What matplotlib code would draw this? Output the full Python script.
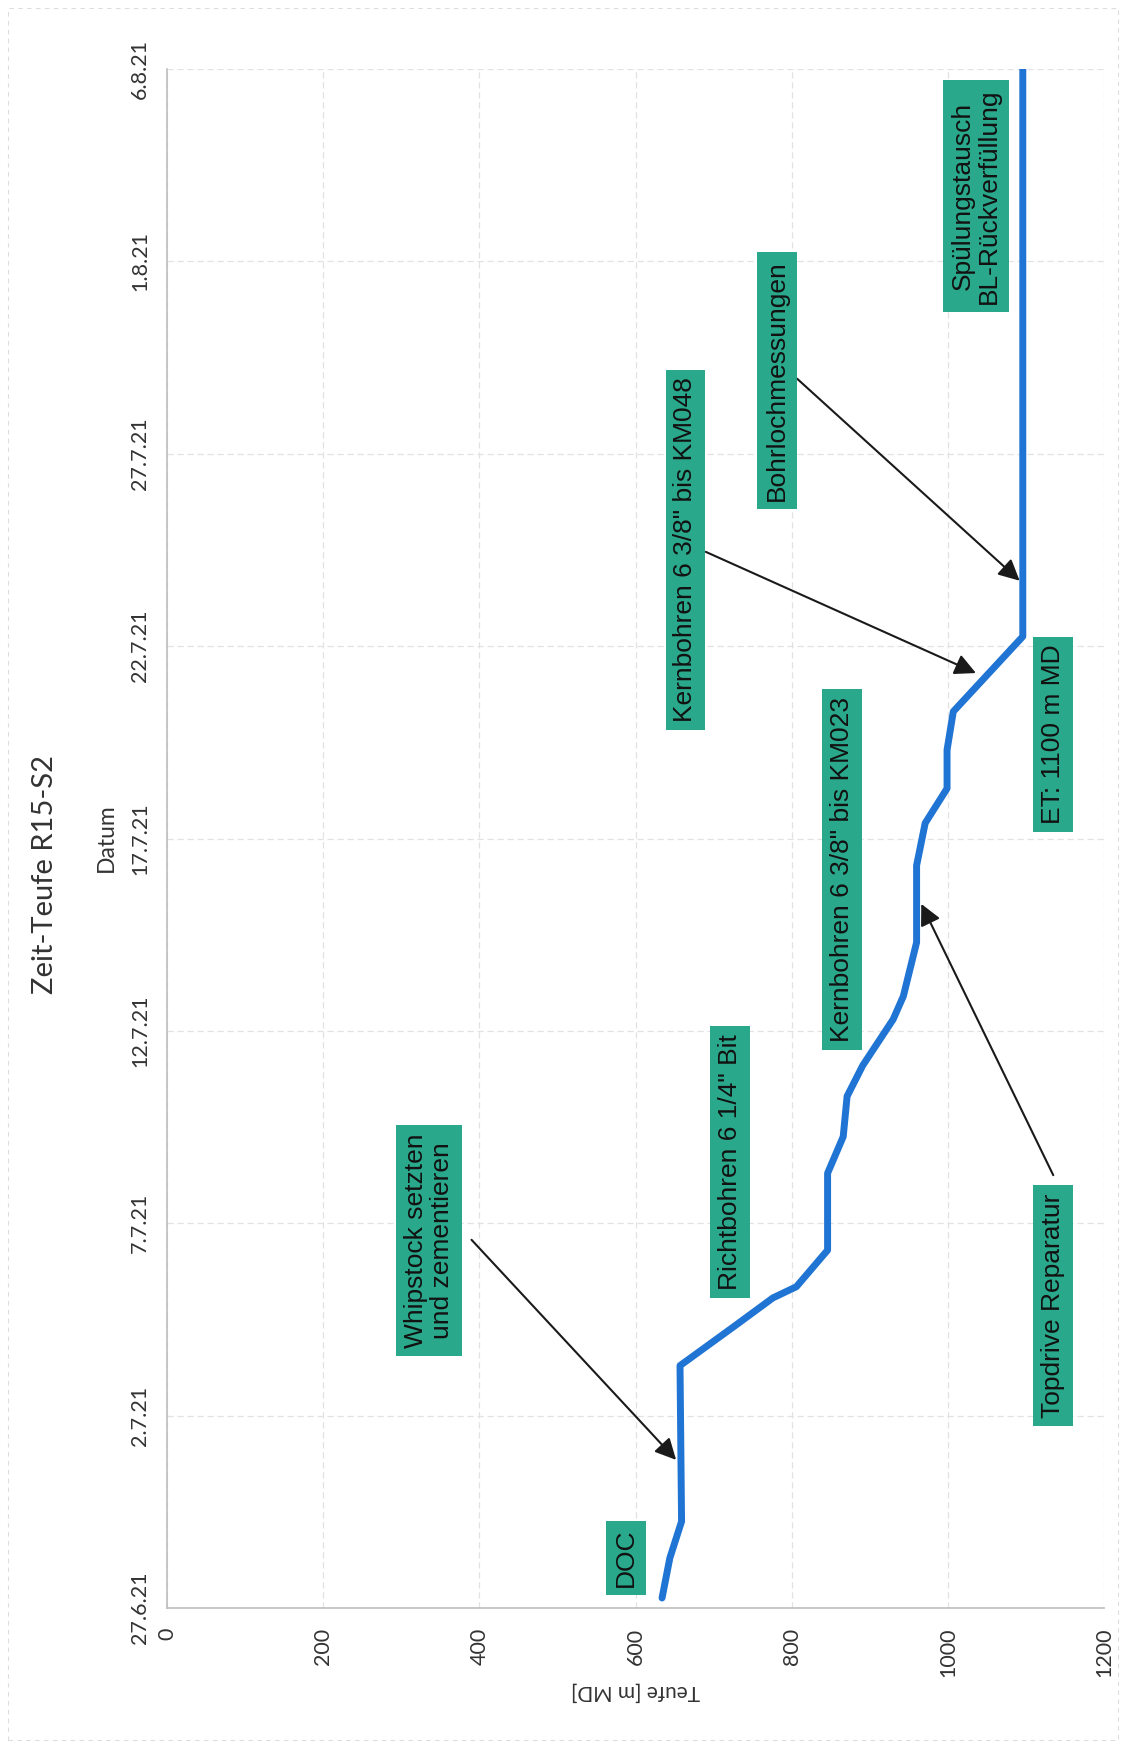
import numpy as np
import matplotlib.pyplot as plt
from matplotlib.patches import Rectangle

# Tage seit 27.6.21 und Teufe in m MD
tage = [0.26, 1.3, 2.25, 6.3, 7.3, 8.06, 8.35, 9.3, 11.3, 12.25, 13.3, 14.1, 15.3,
        15.9, 17.3, 19.3, 20.4, 21.3, 22.3, 23.3, 25.25, 40.0]
teufe = [634, 644, 659, 657, 725, 776, 806, 846, 846, 866, 871, 891, 930,
         943, 960, 960, 971, 999, 999, 1007, 1096, 1096]

datum_ticks = [0, 5, 10, 15, 20, 25, 30, 35, 40]
datum_labels = ['27.6.21', '2.7.21', '7.7.21', '12.7.21', '17.7.21',
                '22.7.21', '27.7.21', '1.8.21', '6.8.21']
teufe_ticks = [0, 200, 400, 600, 800, 1000, 1200]

W, H = 1126, 1748
fig = plt.figure(figsize=(W / 100, H / 100), dpi=100)
ax = fig.add_axes([167 / W, 1 - 1608 / H, (1104 - 167) / W, (1608 - 69) / H])

ax.plot(teufe, tage, color='#1f74d4', lw=5, solid_capstyle='round', zorder=3)

ax.set_xlim(0, 1200)
ax.set_ylim(0, 40)
ax.set_xticks(teufe_ticks)
ax.set_xticklabels([str(t) for t in teufe_ticks], rotation=90, family='Lato',
                   fontsize=15.5, color='#333333')
ax.set_yticks(datum_ticks)
ax.set_yticklabels(datum_labels, rotation=90, va='center', family='Lato',
                   fontsize=15.5, color='#333333')
ax.tick_params(axis='x', length=0, pad=14)
ax.tick_params(axis='y', length=0, pad=12)
ax.grid(True, color='#e2e2e2', lw=0.9, ls=(0, (5, 3)))
for s in ['top', 'right']:
    ax.spines[s].set_visible(False)
for s in ['left', 'bottom']:
    ax.spines[s].set_color('#bdbdbd')
    ax.spines[s].set_linewidth(1.2)

fig.text(45 / W, 1 - 875 / H, 'Zeit-Teufe R15-S2', rotation=90, ha='center',
         va='center', family='Lato', fontsize=21, color='#333333')
fig.text(106 / W, 1 - 838 / H, 'Datum', rotation=90, ha='center', va='center',
         family='Lato', fontsize=16.5, color='#333333')
fig.text(635 / W, 1 - 1691 / H, 'Teufe [m MD]', rotation=180, ha='center',
         va='center', family='Lato', fontsize=15, color='#333333')

box = dict(boxstyle='square,pad=0.3', fc='#2aa88b', ec='none')
arr = dict(arrowstyle='-|>', color='#1a1a1a', lw=1.5, mutation_scale=32,
           shrinkA=0, shrinkB=0)
txt = dict(rotation=90, ha='center', va='center', family='Liberation Sans',
           fontsize=19, color='#111111', bbox=box, linespacing=1.1, zorder=4)

ax.text(588, 1.3, 'DOC', **txt)
ax.text(336, 9.55, 'Whipstock setzten\nund zementieren', **txt)
ax.annotate('', xy=(652, 3.85), xytext=(390, 9.57), arrowprops=arr)
ax.text(721, 11.6, 'Richtbohren 6 1/4" Bit', **txt)
ax.text(864, 19.2, 'Kernbohren 6 3/8" bis KM023', **txt)
ax.text(1135, 7.86, 'Topdrive Reparatur', **txt)
ax.annotate('', xy=(966, 18.3), xytext=(1135, 11.25), arrowprops=arr)
ax.text(1135, 22.7, 'ET: 1100 m MD', **txt)
ax.text(664, 27.5, 'Kernbohren 6 3/8" bis KM048', **txt)
ax.annotate('', xy=(1036, 24.3), xytext=(690, 27.45), arrowprops=arr)
ax.text(781, 31.9, 'Bohrlochmessungen', **txt)
ax.annotate('', xy=(1092, 26.7), xytext=(807, 31.95), arrowprops=arr)
ax.text(1036, 36.7, 'Spülungstausch\nBL-Rückverfüllung', **txt)

fig.patches.append(Rectangle((8 / W, 8 / H), 1 - 16 / W, 1 - 16 / H,
                             transform=fig.transFigure, fill=False,
                             ec='#dddddd', lw=0.8, ls=(0, (4, 4))))

fig.savefig('out.png', dpi=100)
